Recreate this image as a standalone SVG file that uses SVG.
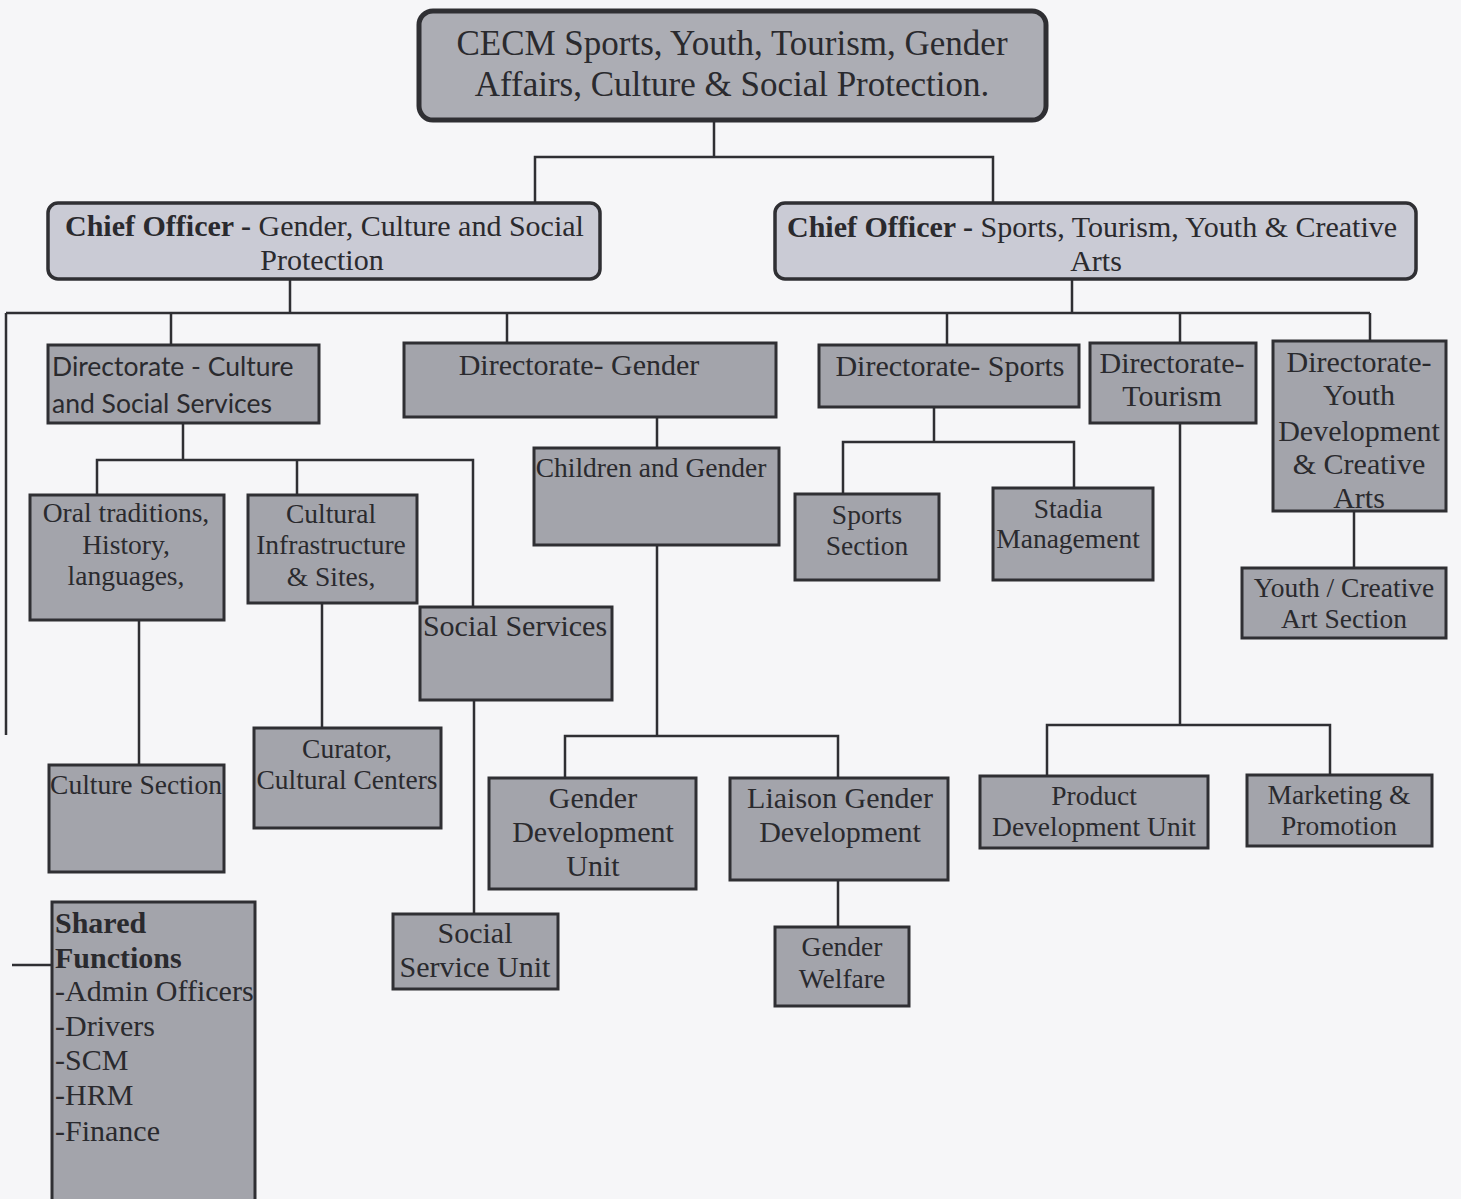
<svg xmlns="http://www.w3.org/2000/svg" width="1461" height="1199" viewBox="0 0 1461 1199">
<style>
.bg{fill:#f6f6f8}
.box{fill:#a3a4ab;stroke:#2f2f33;stroke-width:3}
.top{fill:#acadb4;stroke:#2f2f33;stroke-width:5}
.chief{fill:#cacbd5;stroke:#2f2f33;stroke-width:3.5}
.c{fill:none;stroke:#2f2f33;stroke-width:2.5}
text{font-family:"Liberation Serif","Times New Roman",serif;fill:#2a2a2e;font-size:27.5px}
.m{text-anchor:middle}
.L{font-size:30px}
.t1{font-size:35px}
.t2{font-size:30px}
.sans{font-family:Lato,"Open Sans",sans-serif;font-size:26.5px}
.b{font-weight:bold}
</style>
<rect class="bg" x="0" y="0" width="1461" height="1199"/>
<g id="connectors">
<path class="c" d="M714 120V157M535 203V157H993V203"/>
<path class="c" d="M290 279V313M1072 279V313M6 313H1370M6 313V735M12 965H52"/>
<path class="c" d="M171 313V345M507 313V343M947 313V345M1180 313V343M1370 313V341"/>
<path class="c" d="M183 423V460M97 495V460H473V607M297 460V495"/>
<path class="c" d="M139 620V765M322 603V728M474 700V914"/>
<path class="c" d="M657 417V448M657 545V736M565 778V736H838V778M838 880V927"/>
<path class="c" d="M934 407V442M843 494V442H1074V488"/>
<path class="c" d="M1180 423V725M1047 776V725H1330V775"/>
<path class="c" d="M1354 511V568"/>
</g>
<g id="cecm">
<rect class="top" x="419" y="11" width="627" height="109" rx="14"/>
<text class="m t1" x="732" y="55">CECM Sports, Youth, Tourism, Gender</text>
<text class="m t1" x="732" y="96">Affairs, Culture &amp; Social Protection.</text>
</g>
<g id="chief-gender">
<rect class="chief" x="48" y="203" width="552" height="76" rx="10"/>
<text class="t2" x="65" y="236"><tspan class="b">Chief Officer - </tspan>Gender, Culture and Social</text>
<text class="m t2" x="322" y="270">Protection</text>
</g>
<g id="chief-sports">
<rect class="chief" x="775" y="203" width="641" height="76" rx="10"/>
<text class="t2" x="787" y="237"><tspan class="b">Chief Officer - </tspan>Sports, Tourism, Youth &amp; Creative</text>
<text class="m t2" x="1096" y="271">Arts</text>
</g>
<g id="dir-culture">
<rect class="box" x="48" y="345" width="271" height="78"/>
<text class="sans" x="52" y="376">Directorate - Culture</text>
<text class="sans" x="52" y="413">and Social Services</text>
</g>
<g id="dir-gender">
<rect class="box" x="404" y="343" width="372" height="74"/>
<text class="m L" x="579" y="375">Directorate- Gender</text>
</g>
<g id="dir-sports">
<rect class="box" x="819" y="345" width="260" height="62"/>
<text class="m L" x="950" y="376">Directorate- Sports</text>
</g>
<g id="dir-tourism">
<rect class="box" x="1090" y="343" width="166" height="80"/>
<text class="m L" x="1172" y="373">Directorate-</text>
<text class="m L" x="1172" y="406">Tourism</text>
</g>
<g id="dir-youth">
<rect class="box" x="1273" y="341" width="173" height="170"/>
<text class="m L" x="1359" y="372">Directorate-</text>
<text class="m L" x="1359" y="405">Youth</text>
<text class="m L" x="1359" y="441">Development</text>
<text class="m L" x="1359" y="474">&amp; Creative</text>
<text class="m L" x="1359" y="508">Arts</text>
</g>
<g id="oral">
<rect class="box" x="30" y="495" width="194" height="125"/>
<text class="m" x="126" y="522">Oral traditions,</text>
<text class="m" x="126" y="554">History,</text>
<text class="m" x="126" y="585">languages,</text>
</g>
<g id="cultural-infra">
<rect class="box" x="248" y="495" width="169" height="108"/>
<text class="m" x="331" y="523">Cultural</text>
<text class="m" x="331" y="554">Infrastructure</text>
<text class="m" x="331" y="586">&amp; Sites,</text>
</g>
<g id="social-services">
<rect class="box" x="420" y="607" width="192" height="93"/>
<text class="m L" x="515" y="636">Social Services</text>
</g>
<g id="culture-section">
<rect class="box" x="49" y="765" width="175" height="107"/>
<text class="m" x="136" y="794">Culture Section</text>
</g>
<g id="curator">
<rect class="box" x="254" y="728" width="187" height="100"/>
<text class="m" x="347" y="758">Curator,</text>
<text class="m" x="347" y="789">Cultural Centers</text>
</g>
<g id="social-service-unit">
<rect class="box" x="393" y="914" width="165" height="75"/>
<text class="m L" x="475" y="943">Social</text>
<text class="m L" x="475" y="977">Service Unit</text>
</g>
<g id="shared">
<rect class="box" x="52" y="902" width="203" height="300"/>
<text class="b L" x="55" y="933">Shared</text>
<text class="b L" x="55" y="968">Functions</text>
<text class="L" x="55" y="1001">-Admin Officers</text>
<text class="L" x="55" y="1036">-Drivers</text>
<text class="L" x="55" y="1070">-SCM</text>
<text class="L" x="55" y="1105">-HRM</text>
<text class="L" x="55" y="1141">-Finance</text>
</g>
<g id="children-gender">
<rect class="box" x="534" y="448" width="245" height="97"/>
<text class="m" x="651" y="477">Children and Gender</text>
</g>
<g id="gender-dev-unit">
<rect class="box" x="489" y="778" width="207" height="111"/>
<text class="m L" x="593" y="808">Gender</text>
<text class="m L" x="593" y="842">Development</text>
<text class="m L" x="593" y="876">Unit</text>
</g>
<g id="liaison">
<rect class="box" x="730" y="778" width="218" height="102"/>
<text class="m L" x="840" y="808">Liaison Gender</text>
<text class="m L" x="840" y="842">Development</text>
</g>
<g id="gender-welfare">
<rect class="box" x="775" y="927" width="134" height="79"/>
<text class="m" x="842" y="956">Gender</text>
<text class="m" x="842" y="988">Welfare</text>
</g>
<g id="sports-section">
<rect class="box" x="795" y="494" width="144" height="86"/>
<text class="m" x="867" y="524">Sports</text>
<text class="m" x="867" y="555">Section</text>
</g>
<g id="stadia">
<rect class="box" x="993" y="488" width="160" height="92"/>
<text class="m" x="1068" y="518">Stadia</text>
<text class="m" x="1068" y="548">Management</text>
</g>
<g id="youth-section">
<rect class="box" x="1242" y="568" width="204" height="70"/>
<text class="m" x="1344" y="597">Youth / Creative</text>
<text class="m" x="1344" y="628">Art Section</text>
</g>
<g id="product-dev">
<rect class="box" x="980" y="776" width="228" height="72"/>
<text class="m" x="1094" y="805">Product</text>
<text class="m" x="1094" y="836">Development Unit</text>
</g>
<g id="marketing">
<rect class="box" x="1247" y="775" width="185" height="71"/>
<text class="m" x="1339" y="804">Marketing &amp;</text>
<text class="m" x="1339" y="835">Promotion</text>
</g>
</svg>
